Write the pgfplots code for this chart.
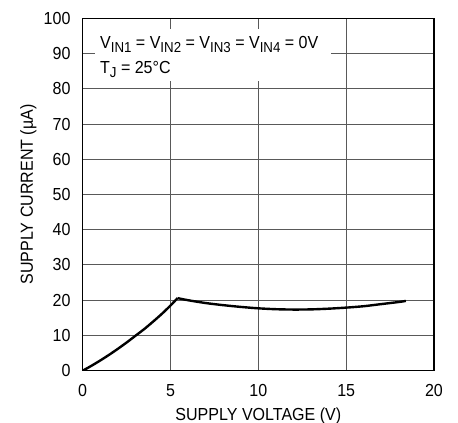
\documentclass[border=0pt]{standalone}
\usepackage{pgfplots}
\pgfplotsset{compat=1.18}
\usepackage{fontspec}
\setmainfont{Liberation Sans}[FakeStretch=0.92]
\newcommand{\sub}[1]{\raisebox{-0.22em}{\fontsize{14.5}{14.5}\selectfont #1}}
\begin{document}
\fontsize{17.5}{20}\selectfont
\begin{tikzpicture}
\useasboundingbox (-82.7bp,-52.3bp) rectangle (375.3bp,370.7bp);
\begin{axis}[
  scale only axis,
  width=351.3bp, height=352.4bp,
  xmin=0, xmax=20, ymin=0, ymax=100,
  xtick={0,5,10,15,20},
  ytick={0,10,20,30,40,50,60,70,80,90,100},
  grid=major,
  major grid style={draw=black!65, line width=1bp},
  axis line style={line width=1.4bp},
  tick style={draw=none},
  /pgf/number format/assume math mode=true,
  ticklabel style={font=\fontsize{17.5}{20}\selectfont},
  xticklabel style={anchor=base, inner sep=0pt, yshift=-26bp},
  yticklabel style={anchor=east, inner sep=0pt, xshift=-12bp},
  xlabel={SUPPLY VOLTAGE (V)},
  ylabel={SUPPLY CURRENT (µA)},
  xlabel style={at={([yshift=-49.5bp]axis description cs:0.5,0)}, anchor=base, inner sep=0pt},
  ylabel style={at={([xshift=-49.7bp]axis description cs:0,0.5)}, anchor=base, inner sep=0pt},
  label style={font=\fontsize{17.5}{20}\selectfont},
]
\fill[white] (axis cs:0.7,82.1) rectangle (axis cs:14.15,97);
\node[anchor=base west, inner sep=0pt] at (axis cs:0.98,91.3)
  {V\sub{IN1} = V\sub{IN2} = V\sub{IN3} = V\sub{IN4} = 0V};
\node[anchor=base west, inner sep=0pt] at (axis cs:0.98,84.3)
  {T\sub{J} = 25°C};
\addplot[black, line width=2.4bp, line join=round, smooth, tension=0.4] coordinates {
  (0,0) (0.5,1.4) (1,2.9) (1.5,4.5) (2,6.2) (2.5,8.0) (3,9.9) (3.5,11.8)
  (4,13.9) (4.5,16.1) (5,18.5) (5.4,20.6)
};
\addplot[black, line width=2.4bp, line join=round, smooth, tension=0.5] coordinates {
  (5.4,20.6) (6,20.0) (7,19.2) (8,18.6) (9,18.1) (10,17.7) (11,17.45)
  (12,17.35) (13,17.4) (14,17.6) (15,17.9) (16,18.3) (17,18.9) (18,19.5) (18.4,19.8)
};
\end{axis}
\end{tikzpicture}
\end{document}
